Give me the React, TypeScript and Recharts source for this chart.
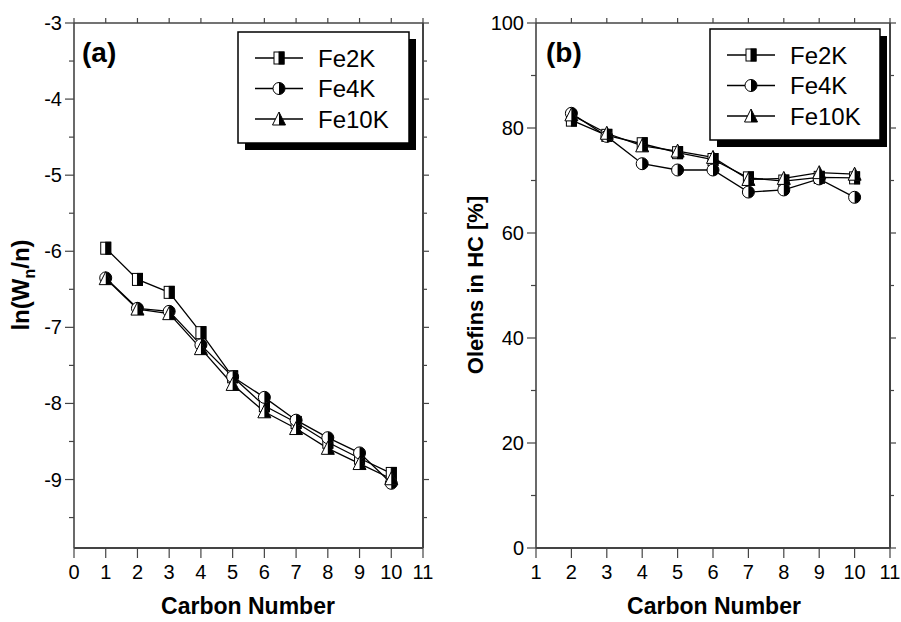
import React from "react";
import { LineChart, Line, XAxis, YAxis } from "recharts";

// panel (a): ln(Wn/n) vs carbon number
const carbonA = [1, 2, 3, 4, 5, 6, 7, 8, 9, 10];
const lnFe2K = [-5.96, -6.37, -6.54, -7.07, -7.65, -8.03, -8.25, -8.51, -8.72, -8.92];
const lnFe4K = [-6.35, -6.75, -6.79, -7.23, -7.65, -7.92, -8.22, -8.45, -8.65, -9.05];
const lnFe10K = [-6.36, -6.76, -6.82, -7.28, -7.75, -8.11, -8.33, -8.59, -8.79, -8.99];

// panel (b): olefin content in HC
const carbonB = [2, 3, 4, 5, 6, 7, 8, 9, 10];
const olFe2K = [81.5, 78.6, 77.0, 75.3, 74.0, 70.5, 69.9, 70.6, 70.5];
const olFe4K = [82.8, 78.4, 73.2, 72.0, 72.0, 67.8, 68.2, 70.3, 66.8];
const olFe10K = [82.5, 79.0, 76.6, 75.6, 74.4, 70.2, 70.4, 71.5, 71.2];

const seriesNames = ["Fe2K", "Fe4K", "Fe10K"];
const markerKinds = ["square", "circle", "triangle"];

const xTicksA = [0, 1, 2, 3, 4, 5, 6, 7, 8, 9, 10, 11];
const xTicksB = [1, 2, 3, 4, 5, 6, 7, 8, 9, 10, 11];
const yTicksA = [-3, -3.5, -4, -4.5, -5, -5.5, -6, -6.5, -7, -7.5, -8, -8.5, -9, -9.5];
const yTicksB = [0, 10, 20, 30, 40, 50, 60, 70, 80, 90, 100];

const FONT = "'Liberation Sans', Arial, Helvetica, sans-serif";
const AXIS = "#444";

const dataA = carbonA.map((n, i) => ({ n, Fe2K: lnFe2K[i], Fe4K: lnFe4K[i], Fe10K: lnFe10K[i] }));
const dataB = carbonB.map((n, i) => ({ n, Fe2K: olFe2K[i], Fe4K: olFe4K[i], Fe10K: olFe10K[i] }));

const Marker = ({ kind, cx, cy }: { kind: string; cx: number; cy: number }) => {
  if (kind === "square") {
    return (
      <g>
        <rect x={cx - 5} y={cy - 6} width={10} height={12} fill="#fff" stroke="#000" strokeWidth={1} />
        <rect x={cx} y={cy - 6} width={5} height={12} fill="#000" stroke="#000" strokeWidth={1} />
      </g>
    );
  }
  if (kind === "circle") {
    const r = 6;
    return (
      <g>
        <circle cx={cx} cy={cy} r={r} fill="#fff" stroke="#000" strokeWidth={1} />
        <path d={`M${cx},${cy - r} A${r},${r} 0 0 1 ${cx},${cy + r} Z`} fill="#000" />
      </g>
    );
  }
  return (
    <g>
      <polygon points={`${cx},${cy - 7} ${cx + 6.5},${cy + 6} ${cx - 6.5},${cy + 6}`} fill="#fff" stroke="#000" strokeWidth={1} />
      <polygon points={`${cx},${cy - 7} ${cx + 6.5},${cy + 6} ${cx},${cy + 6}`} fill="#000" />
    </g>
  );
};

const isMajor = (v: number, step: number) => Math.abs(v / step - Math.round(v / step)) < 1e-6;

const LeftTick = (p: any) => {
  const v = p.payload.value;
  const major = isMajor(v, p.step);
  return (
    <g>
      <line x1={p.x} x2={p.x - (major ? 9 : 5)} y1={p.y} y2={p.y} stroke={AXIS} strokeWidth={1.2} />
      {major && (
        <text x={p.x - 12} y={p.y + 7} textAnchor="end" fontSize={20} fontFamily={FONT} fill="#000">
          {v}
        </text>
      )}
    </g>
  );
};

const RightTick = (p: any) => {
  const major = isMajor(p.payload.value, p.step);
  return <line x1={p.x} x2={p.x + (major ? 6 : 4)} y1={p.y} y2={p.y} stroke={AXIS} strokeWidth={1.2} />;
};

const BottomTick = (p: any) => (
  <g>
    <line x1={p.x} x2={p.x} y1={p.y} y2={p.y + 10} stroke={AXIS} strokeWidth={1.2} />
    <text x={p.x} y={p.y + 31} textAnchor="middle" fontSize={20} fontFamily={FONT} fill="#000">
      {p.payload.value}
    </text>
  </g>
);

const TopTick = (p: any) => <line x1={p.x} x2={p.x} y1={p.y} y2={p.y - 5} stroke={AXIS} strokeWidth={1.2} />;

const Panel = ({
  data,
  xDomain,
  xTicks,
  yDomain,
  yTicks,
  yStep,
  width,
  margin,
}: {
  data: any[];
  xDomain: [number, number];
  xTicks: number[];
  yDomain: [number, number];
  yTicks: number[];
  yStep: number;
  width: number;
  margin: { top: number; right: number; bottom: number; left: number };
}) => (
  <LineChart width={width} height={622} data={data} margin={margin}>
    <XAxis
      xAxisId="b"
      dataKey="n"
      type="number"
      domain={xDomain}
      ticks={xTicks}
      interval={0}
      height={30}
      tickSize={0}
      tickMargin={0}
      tickLine={false}
      axisLine={{ stroke: AXIS, strokeWidth: 2.2 }}
      tick={(p: any) => <BottomTick {...p} />}
    />
    <XAxis
      xAxisId="t"
      dataKey="n"
      type="number"
      orientation="top"
      domain={xDomain}
      ticks={xTicks}
      interval={0}
      height={10}
      tickSize={0}
      tickMargin={0}
      tickLine={false}
      axisLine={{ stroke: AXIS, strokeWidth: 1.5 }}
      tick={(p: any) => <TopTick {...p} />}
    />
    <YAxis
      yAxisId="l"
      type="number"
      domain={yDomain}
      ticks={yTicks}
      interval={0}
      width={60}
      allowDataOverflow
      tickSize={0}
      tickMargin={0}
      tickLine={false}
      axisLine={{ stroke: AXIS, strokeWidth: 1.6 }}
      tick={(p: any) => <LeftTick {...p} step={yStep} />}
    />
    <YAxis
      yAxisId="r"
      orientation="right"
      type="number"
      domain={yDomain}
      ticks={yTicks}
      interval={0}
      width={10}
      allowDataOverflow
      tickSize={0}
      tickMargin={0}
      tickLine={false}
      axisLine={{ stroke: AXIS, strokeWidth: 2 }}
      tick={(p: any) => <RightTick {...p} step={yStep} />}
    />
    {seriesNames.map((name, si) => (
      <Line
        key={name}
        xAxisId="b"
        yAxisId="l"
        type="linear"
        dataKey={name}
        stroke="#000"
        strokeWidth={1.3}
        isAnimationActive={false}
        activeDot={false}
        dot={(p: any) => <Marker key={`${name}-${p.index}`} kind={markerKinds[si]} cx={p.cx} cy={p.cy} />}
      />
    ))}
  </LineChart>
);

const LegendBox = ({ x, y, w, h, rowY, lineX }: { x: number; y: number; w: number; h: number; rowY: number[]; lineX: number }) => (
  <g>
    <rect x={x + 7} y={y + 7} width={w} height={h} fill="#000" />
    <rect x={x} y={y} width={w} height={h} fill="#fff" stroke="#000" strokeWidth={1.5} />
    {seriesNames.map((name, i) => (
      <g key={name}>
        <line x1={lineX} x2={lineX + 48} y1={rowY[i]} y2={rowY[i]} stroke="#000" strokeWidth={1.3} />
        <Marker kind={markerKinds[i]} cx={lineX + 24} cy={rowY[i]} />
        <text x={lineX + 63} y={rowY[i] + 8.5} fontSize={24} fontFamily={FONT} fill="#000">
          {name}
        </text>
      </g>
    ))}
  </g>
);

export default function App() {
  return (
    <div style={{ position: "absolute", left: 0, top: 0, width: 901, height: 622, background: "#fff", overflow: "hidden" }}>
      <div style={{ position: "absolute", left: 0, top: 0 }}>
        <Panel
          data={dataA}
          xDomain={[0, 11]}
          xTicks={xTicksA}
          yDomain={[-9.9, -3]}
          yTicks={yTicksA}
          yStep={1}
          width={450}
          margin={{ top: 13, right: 17, bottom: 44, left: 14 }}
        />
      </div>
      <div style={{ position: "absolute", left: 450, top: 0 }}>
        <Panel
          data={dataB}
          xDomain={[1, 11]}
          xTicks={xTicksB}
          yDomain={[0, 100]}
          yTicks={yTicksB}
          yStep={20}
          width={451}
          margin={{ top: 13, right: 1, bottom: 44, left: 26 }}
        />
      </div>
      <svg width={901} height={622} style={{ position: "absolute", left: 0, top: 0, pointerEvents: "none" }}>
        <text x={82} y={62} fontSize={28} fontWeight="bold" fontFamily={FONT}>(a)</text>
        <text x={546} y={62} fontSize={28} fontWeight="bold" fontFamily={FONT}>(b)</text>
        <LegendBox x={238} y={32} w={171} h={111} rowY={[58, 88.5, 119]} lineX={255} />
        <LegendBox x={710} y={29} w={170} h={111} rowY={[55, 85.5, 116]} lineX={727} />
        <text transform="translate(29,285) rotate(-90)" textAnchor="middle" fontSize={24} fontWeight="bold" fontFamily={FONT}>
          ln(W<tspan dy={6} fontSize={16}>n</tspan>
          <tspan dy={-6}>/n)</tspan>
        </text>
        <text transform="translate(483,285) rotate(-90)" textAnchor="middle" fontSize={22} fontWeight="bold" fontFamily={FONT}>
          Olefins in HC [%]
        </text>
        <text x={248} y={614} textAnchor="middle" fontSize={23} fontWeight="bold" fontFamily={FONT}>Carbon Number</text>
        <text x={714} y={614} textAnchor="middle" fontSize={23} fontWeight="bold" fontFamily={FONT}>Carbon Number</text>
      </svg>
    </div>
  );
}
